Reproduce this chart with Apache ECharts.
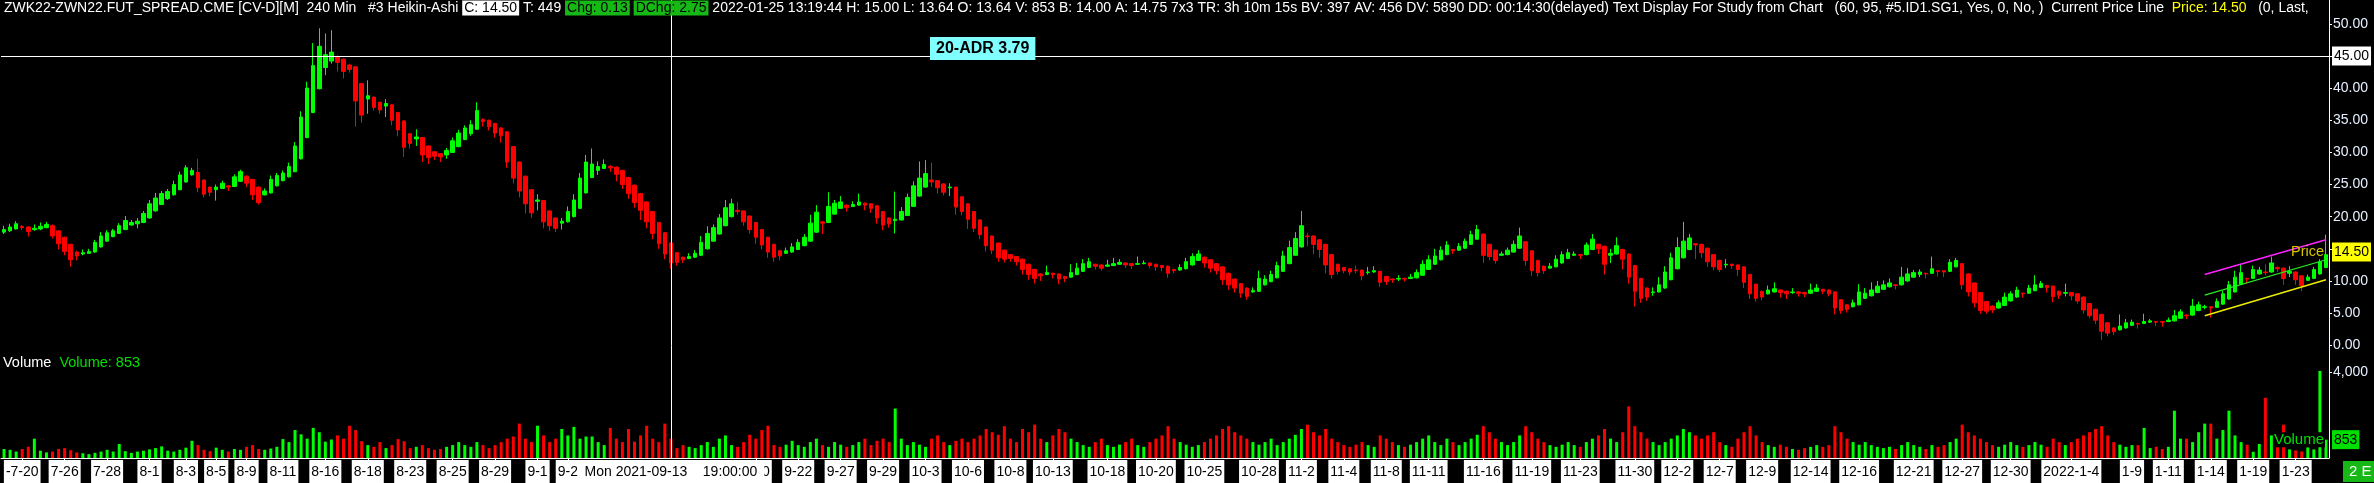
<!DOCTYPE html>
<html><head><meta charset="utf-8">
<script src="https://cdn.jsdelivr.net/npm/echarts@6/dist/echarts.min.js"></script>
<style>html,body{margin:0;padding:0;background:#000;overflow:hidden}#c{width:2374px;height:483px}</style>
</head><body><div id="c"></div>
<script>
// ---------- data ----------
// Heikin-Ashi bars: [open, close, low, high]
const ohlc = [
[17.6,18.0,17.3,18.6],[17.8,18.4,17.6,18.9],[18.1,18.9,18.0,19.3],[18.5,18.3,17.9,18.7],[18.4,17.7,16.9,18.5],[18.0,18.2,17.8,18.8],[18.1,18.5,17.9,19.1],[18.3,18.8,18.2,19.2],[18.6,17.0,16.6,18.8],[17.8,15.8,14.9,17.9],
[16.8,14.6,14.0,16.9],[15.7,13.3,12.2,15.8],[14.5,13.9,13.2,14.7],[14.2,14.4,14.0,14.9],[14.3,14.6,14.2,15.0],[14.5,16.0,14.4,16.4],[15.3,17.0,15.2,17.6],[16.2,17.5,16.1,17.9],[16.9,17.8,16.8,18.1],[17.4,18.6,17.3,19.0],
[18.0,19.4,17.9,20.1],[18.7,19.1,18.6,19.5],[18.9,19.3,18.2,19.8],[19.1,20.5,19.0,20.9],[19.8,22.0,19.7,22.6],[20.9,22.9,20.8,23.7],[21.9,23.6,21.8,24.0],[22.8,23.9,22.6,24.3],[23.4,25.0,23.3,25.6],[24.2,26.5,24.1,27.0],
[25.4,27.6,25.3,28.0],[26.5,27.2,26.4,27.6],[26.9,24.5,23.8,29.0],[25.7,23.5,23.0,25.8],[24.6,23.8,23.2,24.7],[24.2,24.6,22.5,25.0],[24.4,25.2,24.3,25.6],[24.8,24.6,24.0,24.9],[24.7,26.2,24.6,26.6],[25.5,27.0,25.4,27.3],
[26.3,25.2,24.6,26.4],[25.8,23.4,22.6,25.9],[24.6,22.2,21.9,24.7],[23.4,24.0,23.3,24.4],[23.7,25.8,23.6,26.4],[24.8,26.4,24.7,26.8],[25.6,26.8,25.5,27.2],[26.2,27.8,26.1,28.4],[27.0,31.0,26.9,31.6],[29.0,35.5,28.9,36.4],
[32.3,40.0,32.2,41.0],[36.2,43.5,36.1,47.0],[39.9,46.5,39.8,49.3],[43.2,45.2,42.0,48.5],[44.2,45.6,43.8,49.0],[44.9,44.0,42.6,45.1],[44.5,42.6,41.5,44.6],[43.6,42.9,42.4,43.8],[43.3,38.0,34.0,43.4],[40.7,35.8,34.6,40.8],
[38.3,38.8,36.0,41.2],[38.6,37.0,36.5,38.7],[37.8,36.6,36.0,37.9],[37.2,37.6,35.5,38.3],[37.4,35.0,34.2,37.5],[36.2,33.5,32.5,36.3],[34.9,30.8,29.3,35.0],[32.9,31.4,30.6,33.0],[32.1,32.4,31.0,33.6],[32.3,29.6,28.5,32.4],
[31.0,29.2,28.2,31.1],[30.1,29.4,28.8,30.2],[29.8,29.3,28.5,29.9],[29.6,30.3,29.0,30.7],[30.0,31.8,29.9,32.3],[30.9,33.0,30.8,33.5],[32.0,33.8,31.9,34.2],[32.9,34.3,32.6,35.0],[33.6,36.5,33.5,37.8],[35.1,34.8,34.0,35.3],
[35.0,34.0,33.4,35.1],[34.5,33.0,32.3,34.6],[33.8,32.6,31.5,33.9],[33.2,28.5,27.6,33.3],[30.9,26.0,25.2,31.0],[28.5,24.0,23.0,28.6],[26.3,22.0,20.5,26.4],[24.2,20.6,19.8,24.3],[22.4,22.6,21.0,23.5],[22.5,19.2,18.2,22.6],
[20.9,18.6,17.8,21.0],[19.8,18.2,17.6,19.9],[19.0,19.3,18.0,19.8],[19.2,20.8,19.1,21.6],[20.0,22.6,19.9,23.5],[21.3,26.0,21.2,26.8],[23.7,28.5,23.6,29.6],[26.1,28.2,26.0,30.6],[27.2,27.8,26.5,28.6],[27.5,28.1,27.4,28.9],
[27.8,27.6,27.0,28.0],[27.7,26.6,25.5,27.8],[27.2,25.0,24.3,27.3],[26.1,23.6,22.8,26.2],[24.9,22.2,21.4,25.0],[23.6,21.0,19.5,23.7],[22.3,19.2,18.2,22.4],[20.8,17.4,16.5,20.9],[19.1,15.8,15.0,19.2],[17.5,14.2,13.4,17.6],
[15.9,12.8,11.9,16.0],[14.4,12.9,12.4,14.5],[13.7,13.3,12.8,13.8],[13.5,13.8,13.4,14.3],[13.7,14.3,13.6,14.8],[14.0,16.0,13.9,17.0],[15.0,17.4,14.9,18.5],[16.2,18.3,16.1,18.8],[17.3,19.8,17.2,20.4],[18.6,21.4,18.5,22.6],
[20.0,22.0,19.9,22.8],[21.0,20.8,20.3,22.3],[20.9,19.2,18.6,21.0],[20.1,18.0,17.4,20.2],[19.1,16.8,15.8,19.2],[18.0,15.6,14.9,18.1],[16.8,14.5,13.6,16.9],[15.7,13.7,13.0,15.8],[14.7,13.9,13.2,14.8],[14.3,14.7,14.2,15.2],
[14.5,15.3,14.4,15.9],[14.9,16.0,14.8,16.5],[15.5,16.8,15.4,17.3],[16.2,19.0,16.1,20.3],[17.6,20.7,17.5,21.8],[19.2,19.0,17.3,19.3],[19.1,21.6,19.0,23.8],[20.4,22.1,20.3,22.6],[21.3,22.3,21.2,23.2],[21.8,21.4,20.8,21.9],
[21.6,21.9,21.5,22.4],[21.8,22.3,21.7,23.6],[22.1,21.8,21.0,22.2],[22.0,21.3,20.6,22.1],[21.7,19.8,18.9,21.8],[20.8,18.7,17.9,20.9],[19.8,18.9,18.3,19.9],[19.4,19.6,17.4,23.9],[19.5,20.8,19.4,21.5],[20.2,23.0,20.1,23.6],
[21.6,24.8,21.5,25.5],[23.2,26.0,23.1,28.6],[24.6,26.7,24.5,28.8],[25.7,25.4,24.6,28.4],[25.6,24.5,23.6,25.7],[25.1,23.8,23.3,25.2],[24.5,24.6,23.2,25.2],[24.6,21.5,20.3,24.7],[23.1,20.8,20.2,23.2],[22.0,19.6,18.1,22.1],
[20.8,18.2,17.6,20.9],[19.5,17.2,16.5,19.6],[18.4,15.5,14.6,18.5],[17.0,14.8,14.2,17.1],[15.9,13.6,13.0,16.0],[14.8,13.4,12.9,14.9],[14.1,13.5,13.0,14.2],[13.8,13.0,12.4,13.9],[13.4,11.8,11.0,13.5],[12.6,11.0,10.2,12.7],
[11.8,10.4,9.6,11.9],[11.1,10.8,10.0,11.2],[11.0,11.3,10.9,12.4],[11.2,11.0,10.4,11.3],[11.1,10.3,9.5,11.2],[10.7,10.4,9.8,10.8],[10.6,11.3,10.5,12.6],[11.0,12.0,10.9,12.8],[11.5,12.7,11.4,13.4],[12.1,13.0,12.0,13.6],
[12.6,12.3,11.8,12.7],[12.5,12.0,11.6,12.6],[12.3,12.5,12.2,13.3],[12.4,12.7,12.3,13.6],[12.6,12.9,12.5,13.4],[12.8,12.5,12.0,12.9],[12.7,12.4,11.9,12.8],[12.6,12.7,12.5,13.8],[12.7,12.8,12.6,13.2],[12.8,12.4,12.0,12.9],
[12.6,12.2,11.6,12.7],[12.4,12.1,11.5,12.5],[12.3,11.2,10.5,12.4],[11.8,11.6,11.2,11.9],[11.7,12.1,11.6,12.6],[11.9,13.0,11.8,13.6],[12.5,13.8,12.4,14.3],[13.2,14.2,13.1,14.8],[13.7,12.8,12.1,13.8],[13.3,12.0,11.3,13.4],
[12.7,11.6,11.0,12.8],[12.2,10.2,9.4,12.3],[11.2,9.4,8.6,11.3],[10.3,8.9,8.2,10.4],[9.6,8.1,7.4,9.7],[8.9,7.6,7.1,9.0],[8.3,8.5,8.2,9.0],[8.4,10.4,8.3,11.6],[9.4,10.3,9.3,10.9],[9.9,11.0,9.8,11.6],
[10.5,12.4,10.4,13.0],[11.5,13.9,11.4,14.7],[12.7,15.2,12.6,16.3],[14.0,16.6,13.9,17.6],[15.3,18.6,15.2,20.9],[17.0,16.9,15.4,17.5],[17.0,15.7,14.2,17.1],[16.4,14.9,13.6,16.5],[15.7,12.5,11.2,15.8],[14.1,11.0,10.4,14.2],
[12.6,11.5,11.0,12.7],[12.1,11.6,11.2,12.2],[11.9,11.4,10.9,12.0],[11.7,11.6,11.2,12.4],[11.7,10.8,10.1,11.8],[11.3,11.4,11.0,12.2],[11.4,11.6,11.3,12.3],[11.5,9.8,9.1,11.6],[10.7,9.9,9.4,10.8],[10.3,10.2,9.7,10.4],
[10.3,10.4,10.0,10.9],[10.4,10.3,9.9,10.5],[10.4,10.6,10.3,11.1],[10.5,11.3,10.4,11.8],[10.9,12.6,10.8,13.2],[11.8,13.3,11.7,14.0],[12.6,13.9,12.5,15.0],[13.3,14.8,13.2,15.4],[14.1,15.6,14.0,16.2],[14.9,14.7,14.2,15.0],
[14.8,15.4,14.7,15.9],[15.1,16.2,15.0,16.6],[15.7,17.2,15.6,17.8],[16.5,18.0,16.4,18.7],[17.3,14.0,12.8,17.4],[15.7,13.8,13.2,15.8],[14.8,13.2,12.7,14.9],[14.0,14.2,13.9,14.6],[14.1,14.8,14.0,15.2],[14.5,15.7,14.4,16.3],
[15.1,17.0,15.0,18.3],[16.1,13.2,12.4,16.2],[14.7,11.6,10.8,14.8],[13.2,11.3,10.7,13.3],[12.3,11.6,11.1,12.4],[12.0,12.3,11.9,12.8],[12.2,13.4,12.1,14.0],[12.8,14.1,12.7,14.6],[13.5,14.4,13.4,15.0],[14.0,14.2,13.9,14.6],
[14.1,14.0,13.4,14.2],[14.1,15.6,14.0,16.0],[14.9,16.5,14.8,17.3],[15.7,15.0,14.2,15.8],[15.4,12.6,11.0,15.5],[14.0,14.3,12.8,15.0],[14.2,15.5,14.1,16.8],[14.9,13.4,11.8,15.0],[14.2,10.6,9.6,14.3],[12.4,8.4,6.0,12.5],
[10.4,7.3,6.6,10.5],[8.9,7.5,6.9,9.0],[8.2,8.3,7.7,9.0],[8.3,9.4,8.2,10.6],[8.9,11.4,8.8,12.3],[10.2,13.6,10.1,14.4],[11.9,15.2,11.8,16.8],[13.6,16.2,13.5,19.2],[14.9,16.7,14.8,17.3],[15.8,15.6,13.4,15.9],
[15.7,14.4,13.6,15.8],[15.1,13.0,12.2,15.2],[14.1,12.2,11.7,14.2],[13.2,11.8,11.4,13.3],[12.5,12.6,12.0,13.4],[12.6,12.4,11.9,12.7],[12.5,11.8,10.8,12.6],[12.2,9.8,8.9,12.3],[11.0,8.0,7.2,11.1],[9.5,7.3,6.8,9.6],
[8.4,7.5,7.0,8.5],[8.0,8.6,7.9,9.3],[8.3,8.8,8.2,9.8],[8.6,8.2,7.4,8.7],[8.4,8.0,7.2,8.5],[8.2,8.3,8.0,8.9],[8.3,8.1,7.6,8.4],[8.2,8.0,7.5,8.3],[8.1,8.6,8.0,9.6],[8.4,8.9,8.3,9.5],
[8.7,8.4,8.0,8.8],[8.6,8.0,7.6,8.7],[8.3,5.8,4.8,8.4],[7.1,5.4,4.9,7.2],[6.3,5.6,5.1,6.4],[6.0,6.6,5.9,7.1],[6.3,8.3,6.2,9.5],[7.3,8.1,7.2,8.9],[7.7,8.6,7.6,9.8],[8.2,9.2,8.1,10.0],
[8.7,9.4,8.6,10.1],[9.1,9.7,9.0,10.4],[9.4,9.3,8.7,9.5],[9.4,10.6,9.3,12.2],[10.0,11.1,9.9,12.0],[10.6,11.3,10.5,11.7],[11.0,11.4,10.6,11.8],[11.2,11.1,10.4,11.3],[11.2,11.9,11.1,13.8],[11.6,11.5,10.7,11.7],
[11.6,11.4,10.6,11.7],[11.5,12.9,11.4,13.4],[12.2,13.2,12.1,13.6],[12.7,9.4,8.7,12.8],[11.1,8.3,7.6,11.2],[9.7,6.6,5.9,9.8],[8.2,5.4,4.9,8.3],[6.8,5.3,4.9,6.9],[6.1,5.5,5.0,6.2],[5.8,6.6,5.7,7.0],
[6.2,7.5,6.1,8.2],[6.9,8.0,6.8,8.4],[7.5,8.6,7.4,9.1],[8.1,8.0,7.4,8.2],[8.1,8.9,8.0,9.4],[8.5,9.4,8.4,10.9],[9.0,9.6,8.9,10.0],[9.3,9.0,8.2,9.4],[9.2,7.6,6.7,9.3],[8.4,7.8,7.2,8.5],
[8.1,8.2,7.6,9.6],[8.2,7.7,7.0,8.3],[8.0,6.9,6.5,8.1],[7.5,5.5,4.9,7.6],[6.5,4.6,4.2,6.6],[5.6,3.9,3.3,5.7],[4.8,2.2,0.8,4.9],[3.5,1.9,1.4,3.6],[2.7,2.1,1.6,2.8],[2.4,3.0,2.3,4.8],
[2.7,3.5,2.6,4.1],[3.1,3.6,3.0,4.0],[3.4,3.3,2.6,3.5],[3.4,3.7,3.3,4.9],[3.6,3.8,3.5,4.1],[3.7,3.6,3.0,3.8],[3.7,3.6,2.9,3.8],[3.7,3.9,3.6,4.3],[3.8,4.6,3.7,5.5],[4.2,5.2,4.1,5.6],
[4.7,4.6,4.1,4.8],[4.7,6.1,4.6,7.2],[5.4,6.3,5.3,6.8],[5.9,6.0,5.6,6.3],[6.0,5.8,4.3,6.1],[5.9,6.8,5.8,7.3],[6.4,8.0,6.3,8.5],[7.2,9.4,7.1,10.0],[8.3,10.6,8.2,11.6],[9.5,11.3,9.4,12.6],
[10.4,10.3,9.6,10.5],[10.4,11.8,10.3,12.4],[11.1,11.7,11.0,12.2],[11.4,11.3,10.9,12.6],[11.4,12.8,11.3,13.8],[12.1,11.9,11.4,12.3],[12.0,10.4,9.4,12.1],[11.2,11.5,10.6,12.3],[11.4,10.2,9.4,11.5],[10.8,9.3,8.4,10.9],
[10.1,10.6,10.0,11.0],[10.4,11.8,10.3,12.2],[11.1,13.0,11.0,13.4],[12.1,14.1,12.0,17.2]
];
const volume = [
420,380,300,420,520,900,340,260,300,420,460,360,260,220,180,240,300,380,300,650,
320,240,300,340,400,460,540,340,300,380,480,800,600,380,320,480,380,300,420,380,
520,600,420,380,440,520,880,740,1300,1100,900,1400,1200,760,860,1050,900,1500,1300,780,
600,520,740,460,600,880,780,460,520,600,460,380,420,520,600,740,600,520,740,600,
460,600,740,900,1000,1600,900,740,1500,1050,740,900,1350,1050,1450,900,1000,1000,740,600,
1400,900,740,1350,760,1050,1500,900,740,1600,900,460,600,520,460,600,740,520,900,1050,
600,520,740,1080,900,1300,1500,600,520,620,800,600,520,740,900,600,520,740,620,520,
600,740,900,600,800,900,740,2300,900,600,740,620,520,900,1050,740,600,800,900,740,
900,1050,1350,1200,1080,1480,900,740,1350,1200,1550,900,740,1050,1350,1200,900,740,600,520,
740,900,600,520,620,740,900,600,520,740,900,1050,1480,900,740,620,520,600,740,900,
1050,1350,1480,1200,1050,900,740,620,740,900,600,740,900,1080,1350,1550,1200,1050,1350,900,
740,600,520,620,740,600,520,1050,900,740,600,520,620,740,900,1050,740,600,900,740,
600,740,900,1080,1480,1200,900,740,600,740,1050,1480,1200,900,740,600,520,620,740,600,
520,740,900,1050,1350,900,740,1200,2400,1480,1200,900,740,600,740,900,1050,1350,1200,1050,
900,1050,1200,740,600,520,900,1200,1480,1050,740,600,520,620,520,420,380,460,520,600,
520,600,1480,1200,900,740,620,740,600,520,460,520,420,600,740,600,520,420,600,520,
600,740,900,1550,1200,1050,900,740,600,520,620,740,600,520,600,740,620,520,900,740,
600,740,900,1050,1200,1350,1480,1050,740,620,520,600,600,1400,460,520,420,520,2200,900,
900,740,1200,1600,1600,900,1300,2200,1050,740,620,290,650,2800,1050,520,1550,400,350,300,
500,400,4050,853
];
// date tick labels: [bar index, text]
const tickLabels = [[3,'-7-20'],[10,'7-26'],[17,'7-28'],[24,'8-1'],[30,'8-3'],[35,'8-5'],[40,'8-9'],[46,'8-11'],[53,'8-16'],[60,'8-18'],[67,'8-23'],[74,'8-25'],[81,'8-29'],[88,'9-1'],[93,'9-2'],[124,'9-20'],[131,'9-22'],[138,'9-27'],[145,'9-29'],[152,'10-3'],[159,'10-6'],[166,'10-8'],[173,'10-13'],[182,'10-18'],[190,'10-20'],[198,'10-25'],[207,'10-28'],[214,'11-2'],[221,'11-4'],[228,'11-8'],[235,'11-11'],[244,'11-16'],[252,'11-19'],[260,'11-23'],[269,'11-30'],[276,'12-2'],[283,'12-7'],[290,'12-9'],[298,'12-14'],[306,'12-16'],[315,'12-21'],[323,'12-27'],[331,'12-30'],[341,'2022-1-4'],[351,'1-9'],[357,'1-11'],[364,'1-14'],[371,'1-19'],[378,'1-23']];
const crosshairIndex = 110;
const crosshairText = 'Mon 2021-09-13    19:00:00';
const crosshairPrice = 45.00;
const lastPrice = 14.50;
const lastVolume = 853;
// regression channel [startIndex, endIndex], values at both ends
const channelRange = [363, 383];
const channelTop = [11.0, 16.4];
const channelMid = [7.8, 13.3];
const channelBottom = [4.6, 10.2];
const adrText = '20-ADR 3.79';

// ---------- chart ----------
const FONT = "'Liberation Sans',Arial,sans-serif";
const GREEN = '#00ff00', RED = '#ff0000';
const HIDDEN = {color: 'rgba(0,0,0,0)', width: 0};
const categories = ohlc.map((_, i) => String(i));
const labelMap = new Map(tickLabels);
const showTick = (i) => labelMap.has(i);

const chart = echarts.init(document.getElementById('c'), null, {renderer: 'canvas'});
const HS = 14;
const hdr = (s) => ({color: s.color || '#fff', fontFamily: FONT, fontSize: HS, lineHeight: 16,
  backgroundColor: s.bg, padding: s.bg ? [1, 2, 0, 2] : 0});

chart.setOption({
  backgroundColor: '#000',
  animation: false,
  title: [
    {left: 4, top: 0, padding: 0,
     text: '{w|ZWK22-ZWN22.FUT_SPREAD.CME [CV-D][M]  240 Min   #3 Heikin-Ashi }{c|C: 14.50}{w| T: 449 }{g|Chg: 0.13}{w| }{g|DChg: 2.75}{w| 2022-01-25 13:19:44 H: 15.00 L: 13.64 O: 13.64 V: 853 B: 14.00 A: 14.75 7x3 TR: 3h 10m 15s BV: 397 AV: 456 DV: 5890 DD: 00:14:30(delayed) Text Display For Study from Chart   (60, 95, #5.ID1.SG1, Yes, 0, No, )  Current Price Line  }{y|Price: 14.50}{w|   (0, Last,}',
     textStyle: {fontSize: HS, fontWeight: 'normal', fontFamily: FONT, color: '#fff',
       rich: {w: hdr({}), c: hdr({color: '#000', bg: '#fff'}), g: hdr({color: '#000', bg: '#16b816'}), y: hdr({color: '#ffff00'})}}},
    {left: 3, top: 355, padding: 0, text: '{w|Volume}  {g|Volume: 853}',
     textStyle: {fontSize: 14.5, fontWeight: 'normal', fontFamily: FONT,
       rich: {w: {color: '#fff', fontFamily: FONT, fontSize: 14.5}, g: {color: '#00e000', fontFamily: FONT, fontSize: 14.5}}}},
    {left: 930, top: 37, text: adrText, backgroundColor: '#80ffff', padding: [3, 6, 3, 6],
     textStyle: {color: '#000', fontWeight: 'bold', fontSize: 16, lineHeight: 17, fontFamily: FONT}},
    {left: 2343, top: 461, text: '2 E', backgroundColor: '#16b816', padding: [3, 6, 3, 6],
     textStyle: {color: '#fff', fontWeight: 'normal', fontSize: 15, lineHeight: 15, fontFamily: FONT}}
  ],
  grid: [
    {left: 1, right: 45, top: 0, height: 345.3},
    {left: 1, right: 45, top: 345.3, height: 112.7}
  ],
  xAxis: [
    {gridIndex: 0, type: 'category', data: categories, boundaryGap: true, show: false},
    {gridIndex: 1, type: 'category', data: categories, boundaryGap: true,
     axisLine: {show: true, lineStyle: {color: '#fff', width: 1}},
     axisTick: {show: true, alignWithLabel: true, interval: showTick, length: 3, lineStyle: {color: '#fff'}},
     axisLabel: {show: true, interval: showTick, formatter: (v, i) => labelMap.get(i) || '',
       color: '#000', backgroundColor: '#fff', padding: [4, 2, 3, 2], fontSize: 14, lineHeight: 16,
       fontFamily: FONT, margin: 2}}
  ],
  yAxis: [
    {gridIndex: 0, type: 'value', position: 'right', min: 0, max: 53.7, interval: 5,
     splitLine: {show: false},
     axisLine: {show: true, lineStyle: {color: '#fff'}},
     axisTick: {show: true, length: 3, lineStyle: {color: '#fff'}},
     axisLabel: {color: '#e8f0ff', fontSize: 14, fontFamily: FONT, margin: 4, showMaxLabel: false,
       formatter: (v) => v.toFixed(2)}},
    {gridIndex: 1, type: 'value', position: 'right', min: 0, max: 5242, interval: 4000,
     splitLine: {show: false},
     axisLine: {show: true, lineStyle: {color: '#fff'}},
     axisTick: {show: true, length: 3, lineStyle: {color: '#fff'}},
     axisLabel: {color: '#e8f0ff', fontSize: 14, fontFamily: FONT, margin: 4, showMinLabel: false, showMaxLabel: false}}
  ],
  series: [
    {type: 'candlestick', xAxisIndex: 0, yAxisIndex: 0, data: ohlc, barWidth: 4,
     itemStyle: {color: GREEN, color0: RED, borderColor: GREEN, borderColor0: RED, borderWidth: 1},
     emphasis: {disabled: true},
     markLine: {silent: true, symbol: 'none', animation: false, precision: 2,
       data: [
         {xAxis: String(crosshairIndex), lineStyle: {color: '#fff', width: 1, type: 'solid'}, label: {show: false}},
         {yAxis: crosshairPrice, lineStyle: {color: '#fff', width: 1, type: 'solid'},
          label: {show: true, position: 'end', distance: 3, formatter: crosshairPrice.toFixed(2), color: '#000',
            backgroundColor: '#fff', padding: [3, 2, 2, 2], fontSize: 14, fontFamily: FONT}},
         {yAxis: lastPrice, lineStyle: HIDDEN,
          label: {show: true, position: 'end', distance: 3, formatter: lastPrice.toFixed(2), color: '#000',
            backgroundColor: '#ffff00', padding: [3, 2, 2, 2], fontSize: 14, fontFamily: FONT}},
         {yAxis: lastPrice, lineStyle: HIDDEN,
          label: {show: true, position: 'insideEnd', distance: 5, formatter: 'Price', color: '#d8c600',
            fontSize: 14.5, fontFamily: FONT}}
       ]}},
    {type: 'line', xAxisIndex: 0, yAxisIndex: 0, symbol: 'none', silent: true,
     data: [[String(channelRange[0]), channelTop[0]], [String(channelRange[1]), channelTop[1]]],
     lineStyle: {color: '#ff22ff', width: 1.5}},
    {type: 'line', xAxisIndex: 0, yAxisIndex: 0, symbol: 'none', silent: true,
     data: [[String(channelRange[0]), channelMid[0]], [String(channelRange[1]), channelMid[1]]],
     lineStyle: {color: '#22ee22', width: 1.2}},
    {type: 'line', xAxisIndex: 0, yAxisIndex: 0, symbol: 'none', silent: true,
     data: [[String(channelRange[0]), channelBottom[0]], [String(channelRange[1]), channelBottom[1]]],
     lineStyle: {color: '#eeee00', width: 1.5}},
    {type: 'bar', xAxisIndex: 1, yAxisIndex: 1, barWidth: 3, silent: true,
     data: volume.map((v, i) => ({value: v, itemStyle: {color: ohlc[i][1] >= ohlc[i][0] ? GREEN : RED}})),
     markLine: {silent: true, symbol: 'none', animation: false,
       data: [
         {xAxis: String(crosshairIndex), lineStyle: {color: '#fff', width: 1, type: 'solid'},
          label: {show: true, position: 'start', distance: 2, formatter: crosshairText, color: '#000',
            backgroundColor: '#fff', padding: [4, 7, 3, 7], fontSize: 14, lineHeight: 16, fontFamily: FONT}},
         {yAxis: lastVolume, lineStyle: HIDDEN,
          label: {show: true, position: 'end', distance: 3, formatter: String(lastVolume), color: '#000',
            backgroundColor: '#00e000', padding: [3, 2, 2, 2], fontSize: 14, fontFamily: FONT}},
         {yAxis: lastVolume, lineStyle: HIDDEN,
          label: {show: true, position: 'insideEnd', distance: 4, formatter: 'Volume', color: '#00e000',
            backgroundColor: '#000', padding: [0, 1, 0, 1], fontSize: 15, fontFamily: FONT}}
       ]}}
  ]
});
</script>
</body></html>
